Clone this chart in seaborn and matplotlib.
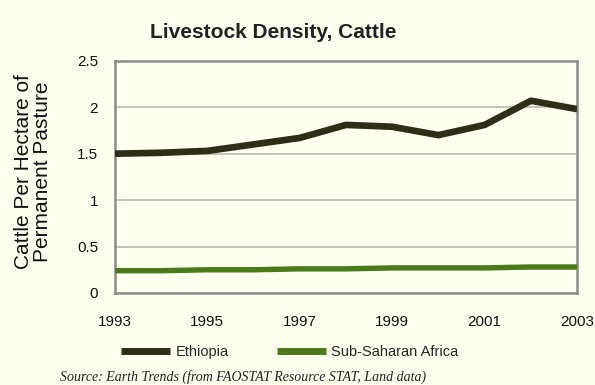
import matplotlib
matplotlib.use("Agg")
import matplotlib.pyplot as plt
import seaborn as sns
import pandas as pd
from matplotlib.lines import Line2D

years = [1993, 1994, 1995, 1996, 1997, 1998, 1999, 2000, 2001, 2002, 2003]
ethiopia = [1.50, 1.51, 1.53, 1.60, 1.67, 1.81, 1.79, 1.70, 1.81, 2.07, 1.98]
ssa = [0.24, 0.24, 0.25, 0.25, 0.26, 0.26, 0.27, 0.27, 0.27, 0.28, 0.28]
series_names = ["Ethiopia", "Sub-Saharan Africa"]
x_ticks = [1993, 1995, 1997, 1999, 2001, 2003]
y_ticks = [0, 0.5, 1, 1.5, 2, 2.5]

bg = "#FFFFF0"
colors = {"Ethiopia": "#2F2D18", "Sub-Saharan Africa": "#4B7A19"}
widths = {"Ethiopia": 4.8, "Sub-Saharan Africa": 3.9}

sns.set_theme(style="white")
plt.rcParams["font.family"] = ["Liberation Sans", "DejaVu Sans"]

df = pd.DataFrame({
    "year": years * 2,
    "value": ethiopia + ssa,
    "region": [series_names[0]] * len(years) + [series_names[1]] * len(years),
})

fig = plt.figure(figsize=(5.95, 3.85), dpi=100, facecolor=bg)
ax = fig.add_axes([0.193, 0.239, 0.777, 0.603])
ax.set_facecolor(bg)

for name in series_names:
    sub = df[df["region"] == name]
    sns.lineplot(data=sub, x="year", y="value", ax=ax, color=colors[name],
                 linewidth=widths[name], solid_joinstyle="round",
                 solid_capstyle="butt", legend=False, zorder=3)

ax.set_xlim(1993, 2003)
ax.set_ylim(0, 2.5)
ax.set_xticks(x_ticks)
ax.set_xticklabels([str(y) for y in x_ticks])
ax.set_yticks(y_ticks)
ax.set_yticklabels(["0", "0.5", "1", "1.5", "2", "2.5"])
ax.tick_params(axis="x", length=0, pad=16, labelsize=11, colors="#111111")
ax.tick_params(axis="y", length=0, pad=12, labelsize=11, colors="#111111")
ax.yaxis.grid(True, color="#B4B4AC", linewidth=1.1)
ax.xaxis.grid(False)
for s in ax.spines.values():
    s.set_color("#8C8C8C")
    s.set_linewidth(1.8)

ax.set_xlabel("")
ax.set_ylabel("")
fig.text(0.056, 0.555, "Cattle Per Hectare of\nPermanent Pasture", rotation=90,
         ha="center", va="center", fontsize=15, color="#111111",
         linespacing=1.0, multialignment="center")

fig.text(0.46, 0.915, "Livestock Density, Cattle", ha="center", va="center",
         fontsize=15, fontweight="bold", color="#222222")

handles = [Line2D([0], [0], color=colors[n], linewidth=5, solid_capstyle="butt")
           for n in series_names]
fig.legend(handles, series_names, loc="center", bbox_to_anchor=(0.487, 0.085),
           ncol=2, frameon=False, fontsize=10.5, handlelength=3.4,
           handletextpad=0.35, columnspacing=3.3)

fig.text(0.408, 0.02, "Source: Earth Trends (from FAOSTAT Resource STAT, Land data)",
         ha="center", va="center", fontsize=10, style="italic",
         family=["Liberation Serif", "DejaVu Serif"], color="#222222")

fig.savefig("out.png", dpi=100, facecolor=bg)
